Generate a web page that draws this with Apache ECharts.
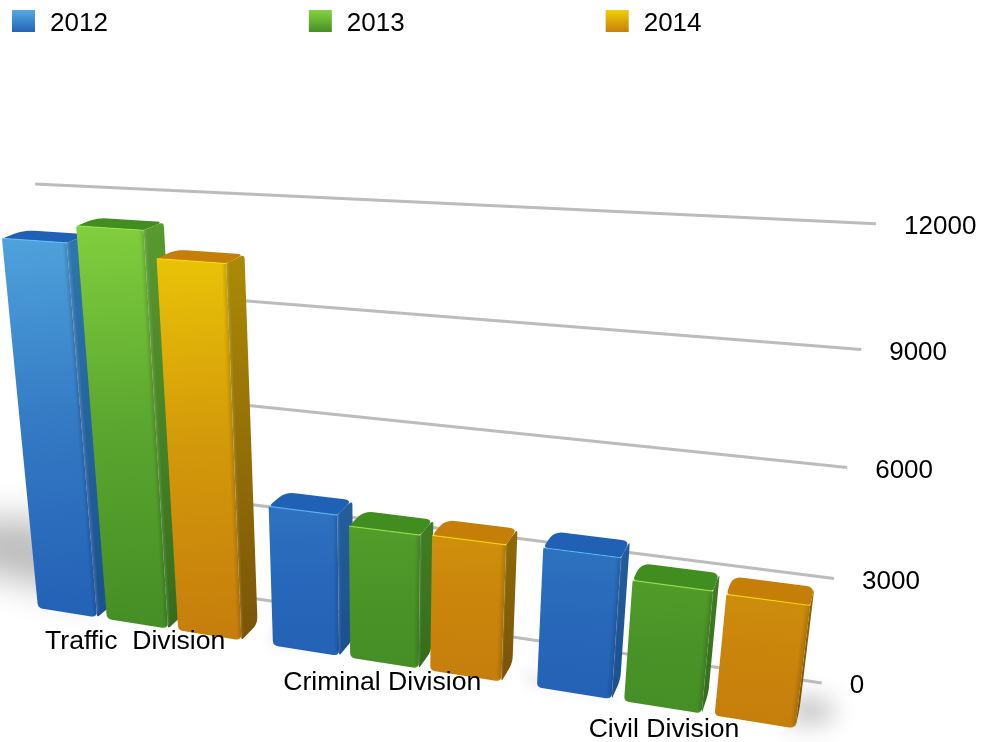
<!DOCTYPE html>
<html><head><meta charset="utf-8">
<style>html,body{margin:0;padding:0;background:#fff}#c{width:985px;height:742px}</style>
<script src="https://cdn.jsdelivr.net/npm/echarts@6/dist/echarts.min.js"></script>
</head><body><div id="c"></div>
<script>
const categories = ['Traffic  Division', 'Criminal Division', 'Civil Division'];
const years = ['2012', '2013', '2014'];
const values2012 = [10900, 4160, 3980];
const values2013 = [11360, 3890, 3410];
const values2014 = [10650, 3930, 3370];
const yTicks = [0, 3000, 6000, 9000, 12000];

const FONT = '"Liberation Sans", Arial, sans-serif';
const DEPTH = 0.0213, WALL = 0.0503;
const STEP = 0.305, WIDTH = 0.262, CENTER = 0.436;
const labelNudge = [[-2,18],[-2,20],[1.5,22]];
const edgeShade = [0.025, 0.05, 0.08, 0.11, 0.15];
const looks = [
  {lo:'#2462b6', hi:'#55abe0', top:'#2061b6', sideLo:'#1c4f8f', sideHi:'#2f7ab0', hl:'#5cc0ff'},
  {lo:'#468f26', hi:'#86d440', top:'#428d20', sideLo:'#336d1c', sideHi:'#5c9c30', hl:'#9ce84e'},
  {lo:'#c67f0c', hi:'#efcf06', top:'#c57f08', sideLo:'#7a5408', sideHi:'#b09006', hl:'#ffe200'}
];
function project(t, n, z) {
  const w = 1 - 0.0549 * t - 0.1044 * n + z;
  return [(38 + 220 * t - 39.88 * n + 980 * z) / w, (608 + 1.93 * t - 431.8 * n - 120 * z) / w];
}
function hex(c){return [1,3,5].map(i=>parseInt(c.substr(i,2),16));}
function mix(a,b,f){const A=hex(a),B=hex(b);return 'rgb('+A.map((v,i)=>Math.round(v+(B[i]-v)*f)).join(',')+')';}
function grad(p,q,c1,c2,mid){
  const stops=[{offset:0,color:c1}];
  if(mid)stops.push({offset:0.5,color:mid});
  stops.push({offset:1,color:c2});
  return new echarts.graphic.LinearGradient(p[0],p[1],q[0],q[1],stops,true);
}
function roundPoly(pts, radii){
  const out=[], N=pts.length;
  pts.forEach((p,i)=>{
    const a=pts[(i+N-1)%N], b=pts[(i+1)%N], r=radii[i];
    const la=Math.hypot(a[0]-p[0],a[1]-p[1]), lb=Math.hypot(b[0]-p[0],b[1]-p[1]);
    if(!r){out.push(p);return;}
    const s=[p[0]+(a[0]-p[0])*Math.min(r/la,.5),p[1]+(a[1]-p[1])*Math.min(r/la,.5)];
    const e=[p[0]+(b[0]-p[0])*Math.min(r/lb,.5),p[1]+(b[1]-p[1])*Math.min(r/lb,.5)];
    for(let k=0;k<=6;k++){const u=k/6,v=1-u;out.push([v*v*s[0]+2*u*v*p[0]+u*u*e[0],v*v*s[1]+2*u*v*p[1]+u*u*e[1]]);}
  });
  return out;
}
function flatten(api, params){
  const cs=params.coordSys;
  return {
    t:px=>(px-cs.x)/cs.width*3-(0.5-CENTER),
    n:py=>(cs.y+cs.height-py)/cs.height
  };
}
function barRender(yi){
  const L=looks[yi];
  return function(params,api){
    const f=flatten(api,params), i=api.value(0), v=api.value(1);
    const c=api.coord([i,v]), b=api.coord([i,0]), band=api.size([1,0])[0];
    const x1=c[0]-band*CENTER+yi*STEP*band, x2=x1+WIDTH*band;
    const t1=f.t(x1), t2=f.t(x2), n=f.n(c[1]), n0=f.n(b[1]);
    const fbl=project(t1,n0,0), fbr=project(t2,n0,0), ftl=project(t1,n,0), ftr=project(t2,n,0);
    const btl=project(t1,n,DEPTH), btr=project(t2,n,DEPTH), bbr=project(t2,n0,DEPTH);
    const cHi=mix(L.lo,L.hi,Math.pow(n,1.4)), cMid=mix(L.lo,L.hi,Math.pow(n/2,1.4));
    const sHi=mix(L.sideLo,L.sideHi,n);
    const poly=(pts,r,fill)=>({type:'polygon',shape:{points:roundPoly(pts,r)},style:{fill:fill},silent:true});
    const strips=edgeShade.map((a,k)=>{
      const ta=t2-0.0035*(5-k), tb=t2-0.0035*(4-k);
      return {type:'polygon',shape:{points:[project(ta,n0+0.008,0),project(ta,n,0),project(tb,n,0),project(tb,n0+0.008,0)]},
        style:{fill:'rgba(0,0,0,'+a+')'},silent:true};
    });
    const sideGlow=[0.14,0.09,0.05].map((a,k)=>({type:'polygon',
      shape:{points:[project(t2,n0+0.008,DEPTH*0.05*k),project(t2,n,DEPTH*0.05*k),project(t2,n,DEPTH*0.05*(k+1)),project(t2,n0+0.008,DEPTH*0.05*(k+1))]},
      style:{fill:'rgba(255,255,255,'+a+')'},silent:true}));
    return {type:'group',children:[
      poly([fbr,ftr,btr,bbr],[3,0,5,7],grad(ftr,fbr,sHi,L.sideLo))
    ].concat(sideGlow,[
      poly([ftl,btl,btr,ftr],[5,10,8,3],L.top),
      poly([fbl,ftl,ftr,fbr],[5,2,1,6],grad(ftl,fbl,cHi,L.lo,cMid))
    ],strips,[
      {type:'polyline',shape:{points:[ftl,ftr]},style:{stroke:L.hl,lineWidth:1.2,opacity:0.75,fill:null},silent:true}
    ])};
  };
}
function wallRender(params,api){
  const f=flatten(api,params), cs=params.coordSys, y=api.coord([0,api.value(1)])[1], n=f.n(y);
  const a=project(f.t(cs.x),n,WALL), e=project(f.t(cs.x+cs.width*(1-0.0033-0.004*n)),n,WALL);
  a[1]+=n>0.75?(n-0.75)*20:0;
  return {type:'group',children:[
    {type:'line',shape:{x1:a[0],y1:a[1],x2:e[0],y2:e[1]},style:{stroke:'#bdbbbb',lineWidth:3},silent:true},
    {type:'text',x:e[0]+28,y:e[1]+3,style:{text:String(api.value(1)),fill:'#000',font:'26px '+FONT,align:'left',verticalAlign:'middle'},silent:true}
  ]};
}
function labelRender(params,api){
  const f=flatten(api,params), i=api.value(0);
  const c=api.coord([i,0]), p=project(f.t(c[0]),f.n(c[1]),0);
  return {type:'text',x:p[0]+labelNudge[i][0],y:p[1]+labelNudge[i][1],style:{text:categories[i],fill:'#000',font:'26.6px '+FONT,align:'center',verticalAlign:'middle'},silent:true};
}
function shadowRender(){
  const OFF=3000;
  const blob=(pts,blur,col)=>({type:'polygon',shape:{points:pts.map(p=>[p[0]-OFF,p[1]])},
    style:{fill:'#000',shadowColor:col,shadowBlur:blur,shadowOffsetX:OFF},silent:true});
  return {type:'group',children:[
    blob([[-80,525],[40,518],[110,590],[100,600],[-80,555]],36,'rgba(0,0,0,0.27)'),
    blob([[790,695],[835,702],[830,722],[790,725]],24,'rgba(0,0,0,0.24)'),
    blob([[270,630],[345,640],[345,650],[270,645]],14,'rgba(0,0,0,0.08)'),
    blob([[520,670],[610,690],[610,695],[530,685]],14,'rgba(0,0,0,0.08)')
  ]};
}
const legendFill=looks.map(L=>new echarts.graphic.LinearGradient(0,0,0,1,[{offset:0,color:L.hi},{offset:1,color:L.lo}]));
const series=[
  {type:'custom',name:'shadow',renderItem:shadowRender,data:[[0,0]],silent:true,clip:false},
  {type:'custom',name:'wall',renderItem:wallRender,data:yTicks.map(v=>[0,v]),silent:true,clip:false}
];
[values2012,values2013,values2014].forEach((vals,yi)=>{
  series.push({type:'custom',name:years[yi],renderItem:barRender(yi),itemStyle:{color:legendFill[yi]},
    data:vals.map((v,i)=>[i,v]),clip:false,silent:true});
});
series.push({type:'custom',name:'labels',renderItem:labelRender,data:categories.map((c,i)=>[i,0]),silent:true,clip:false});
const chart=echarts.init(document.getElementById('c'),null,{renderer:'canvas',width:985,height:742});
chart.setOption({
  animation:false,
  backgroundColor:'#fff',
  grid:{left:0,right:0,top:0,bottom:0},
  xAxis:{type:'category',data:categories,show:false},
  yAxis:{type:'value',min:0,max:12000,show:false},
  legend:{left:7,top:5,itemWidth:23,itemHeight:22,itemGap:201,selectedMode:false,
    icon:'rect',
    formatter:'{a|{name}}',
    textStyle:{fontSize:26,fontFamily:FONT,color:'#000',
      rich:{a:{fontSize:26,fontFamily:FONT,color:'#000',padding:[6,0,0,10]}}},
    data:years.map((y,i)=>({name:y,itemStyle:{color:legendFill[i]}}))},
  series:series
});
</script></body></html>
